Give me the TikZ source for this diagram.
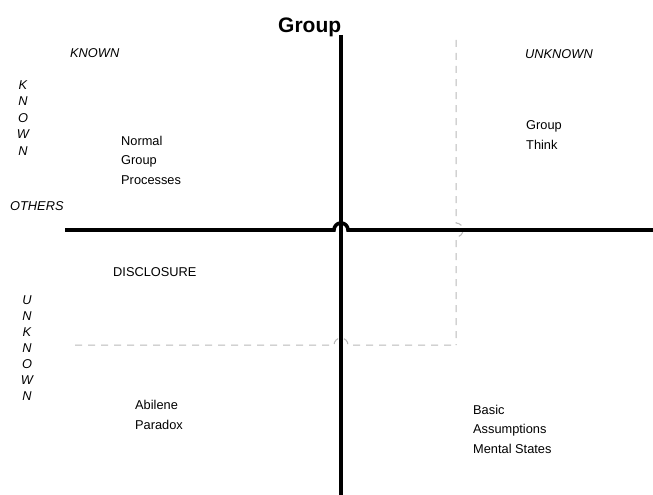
\documentclass[tikz,border=0pt]{standalone}
\usepackage{fontspec}
\setmainfont{Liberation Sans}

\begin{document}
\begin{tikzpicture}[x=1pt, y=-1pt,
  axis/.style = {line width=3.6pt},
  split/.style = {gray!55, line width=1pt, dash pattern=on 7pt off 6pt},
  lbl/.style = {anchor=base west, inner sep=0pt, align=left, font=\fontsize{12.8}{19.4}\selectfont},
  head/.style = {lbl, font=\fontsize{12.8}{19.4}\selectfont\itshape},
  letters/.style = {anchor=base, inner sep=0pt, align=center, font=\fontsize{12.8}{16.5}\selectfont\itshape}]
\useasboundingbox (0,0) rectangle (653,495);

\coordinate (top) at (341,35);
\coordinate (bottom) at (341,495);
\coordinate (west) at (65,230);
\coordinate (east) at (653,230);
\coordinate (dtop) at (456,40);
\coordinate (dcorner) at (456,345);
\coordinate (dwest) at (75,345);

% dashed split, hopping over both axes
\draw[split] (dtop) -- (456,223) arc[start angle=90, end angle=-90, radius=7pt] -- (dcorner);
\draw[split] (dwest) -- (334,345) arc[start angle=180, end angle=0, radius=7pt] -- (dcorner);

% the two axes
\draw[axis] (top) -- (bottom);
\draw[axis] (west) -- (334,230) arc[start angle=180, end angle=0, radius=7pt] -- (east);

\node[anchor=base west, inner sep=0pt, font=\bfseries\fontsize{21}{21}\selectfont] (title) at (278,33) {Group};

% multi-line nodes sit on the baseline of their last line
\node[head] (known) at (70,58) {KNOWN};
\node[head] (unknown) at (525,59) {UNKNOWN};
\node[head] (others) at (10,210) {OTHERS};
\node[letters] (knownv) at (23,155) {K\\N\\O\\W\\N};
\node[letters, font=\fontsize{12.8}{16}\selectfont\itshape] (unknownv) at (27,400) {U\\N\\K\\N\\O\\W\\N};

\node[lbl] (normal) at (121,184) {Normal\\Group\\Processes};
\node[lbl] (think) at (526,149) {Group\\Think};
\node[lbl] (disclosure) at (113,276) {DISCLOSURE};
\node[lbl] (abilene) at (135,429) {Abilene\\Paradox};
\node[lbl] (basic) at (473,453) {Basic\\Assumptions\\Mental States};
\end{tikzpicture}
\end{document}
